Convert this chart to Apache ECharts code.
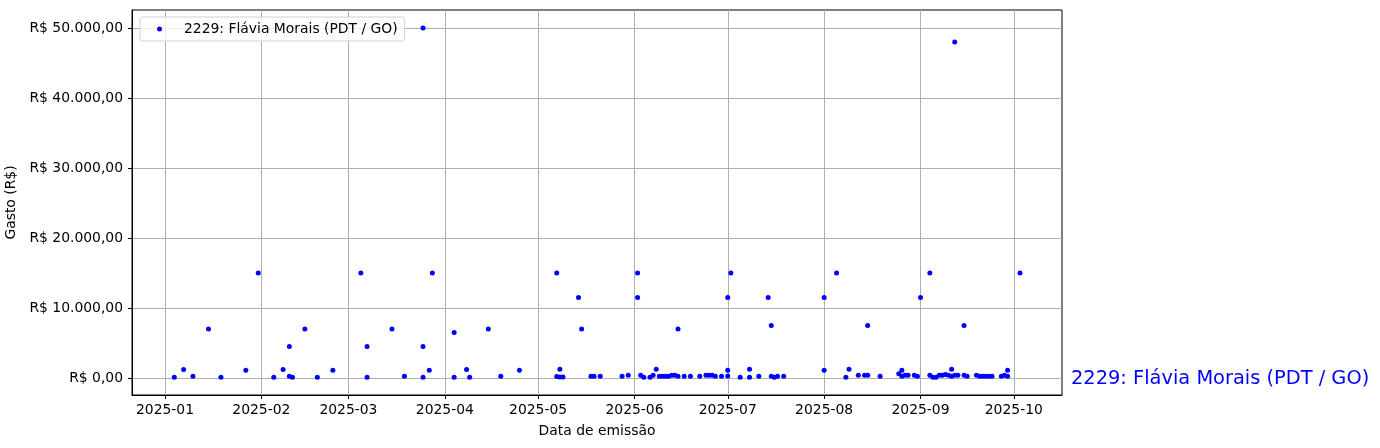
<!DOCTYPE html>
<html>
<head>
<meta charset="utf-8">
<script src="https://cdn.jsdelivr.net/npm/echarts@6/dist/echarts.min.js"></script>
<style>
  html, body { margin: 0; padding: 0; background: #fff; }
  #chart { width: 1380px; height: 448px; }
</style>
</head>
<body>
<div id="chart"></div>
<script>
// dados
const deputado = "2229: Flávia Morais (PDT / GO)";

const datas = [
  "2025-01-04", "2025-01-07", "2025-01-10", "2025-01-15", "2025-01-19", "2025-01-27", "2025-01-31",
  "2025-02-05", "2025-02-08", "2025-02-10", "2025-02-10", "2025-02-11", "2025-02-15", "2025-02-19", "2025-02-24",
  "2025-03-05", "2025-03-07", "2025-03-07", "2025-03-15", "2025-03-19", "2025-03-25", "2025-03-25", "2025-03-25",
  "2025-03-27", "2025-03-28",
  "2025-04-04", "2025-04-04", "2025-04-08", "2025-04-09", "2025-04-15", "2025-04-19", "2025-04-25",
  "2025-05-07", "2025-05-07", "2025-05-08", "2025-05-08", "2025-05-09", "2025-05-14", "2025-05-15", "2025-05-18",
  "2025-05-19", "2025-05-21", "2025-05-28", "2025-05-30",
  "2025-06-02", "2025-06-02", "2025-06-03", "2025-06-04", "2025-06-06", "2025-06-07", "2025-06-08", "2025-06-09",
  "2025-06-10", "2025-06-11", "2025-06-12", "2025-06-13", "2025-06-14", "2025-06-15", "2025-06-15", "2025-06-17",
  "2025-06-19", "2025-06-22", "2025-06-24", "2025-06-25", "2025-06-26", "2025-06-27", "2025-06-29",
  "2025-07-01", "2025-07-01", "2025-07-01", "2025-07-02", "2025-07-05", "2025-07-08", "2025-07-08", "2025-07-11",
  "2025-07-14", "2025-07-15", "2025-07-15", "2025-07-16", "2025-07-17", "2025-07-19",
  "2025-08-01", "2025-08-01", "2025-08-05", "2025-08-08", "2025-08-09", "2025-08-12", "2025-08-14", "2025-08-15",
  "2025-08-15", "2025-08-19", "2025-08-25", "2025-08-26", "2025-08-26", "2025-08-27", "2025-08-28", "2025-08-30",
  "2025-08-31",
  "2025-09-01", "2025-09-04", "2025-09-04", "2025-09-05", "2025-09-06", "2025-09-07", "2025-09-08", "2025-09-09",
  "2025-09-10", "2025-09-11", "2025-09-11", "2025-09-12", "2025-09-12", "2025-09-13", "2025-09-15", "2025-09-15",
  "2025-09-16", "2025-09-19", "2025-09-20", "2025-09-21", "2025-09-22", "2025-09-23", "2025-09-24", "2025-09-27",
  "2025-09-28", "2025-09-29", "2025-09-29",
  "2025-10-03"
];

const gastos = [
  100, 1200, 250, 7000, 100, 1100, 15000,
  100, 1200, 4500, 250, 100, 7000, 100, 1100,
  15000, 4500, 100, 7000, 250, 4500, 100, 50000,
  1100, 15000,
  6500, 100, 1200, 100, 7000, 250, 1100,
  15000, 200, 1250, 150, 150, 11500, 7000, 250,
  250, 250, 250, 400,
  15000, 11500, 400, 100, 100, 400, 1250, 250,
  250, 250, 250, 400, 400, 250, 7000, 250,
  250, 250, 400, 400, 400, 250, 250,
  11500, 1100, 300, 15000, 100, 1250, 100, 250,
  11500, 7500, 250, 100, 250, 250,
  11500, 1100, 15000, 100, 1250, 400, 400, 400,
  7500, 250, 600, 1100, 250, 400, 400, 400,
  250,
  11500, 15000, 400, 100, 100, 400, 400, 500,
  400, 1250, 250, 48000, 400, 400, 7500, 400,
  250, 400, 250, 250, 250, 250, 250, 250,
  400, 1100, 250,
  15000
];

const ticksX = ["2025-01-01", "2025-02-01", "2025-03-01", "2025-04-01", "2025-05-01",
  "2025-06-01", "2025-07-01", "2025-08-01", "2025-09-01", "2025-10-01"];
const ticksY = [0, 10000, 20000, 30000, 40000, 50000];

const toTs = (s) => new Date(s + "T00:00:00").getTime();
const fmtReal = (v) => {
  const partes = v.toFixed(2).split(".");
  return "R$ " + partes[0].replace(/\B(?=(\d{3})+(?!\d))/g, ".") + "," + partes[1];
};
const fmtMes = (v) => {
  const d = new Date(v);
  return d.getFullYear() + "-" + String(d.getMonth() + 1).padStart(2, "0");
};

const pontos = datas.map((d, i) => [toTs(d), gastos[i]]);

const myChart = echarts.init(document.getElementById("chart"));
const fonte = "DejaVu Sans";

const option = {
  animation: false,
  textStyle: { fontFamily: fonte },
  grid: {
    left: 132,
    right: 318,
    top: 10,
    bottom: 53,
    outerBoundsMode: "none",
    containLabel: false,
    show: true,
    borderColor: "#000",
    borderWidth: 1,
  },
  legend: {
    data: [deputado],
    left: 140,
    top: 17,
    padding: [5, 7, 5, 17],
    backgroundColor: "rgba(255,255,255,0.8)",
    borderColor: "#d0d0d0",
    borderWidth: 1,
    borderRadius: 3,
    icon: "circle",
    itemWidth: 5,
    itemHeight: 5,
    textStyle: { fontSize: 13.9, color: "#000", padding: [0, 0, 0, 17] },
  },
  xAxis: {
    type: "value",
    min: toTs("2024-12-21") + 9.5 * 3600000,
    max: toTs("2025-10-16") + 12 * 3600000,
    name: "Data de emissão",
    nameLocation: "middle",
    nameGap: 29,
    nameTextStyle: { fontSize: 13.9, color: "#000" },
    axisLine: { onZero: false, lineStyle: { color: "#000" } },
    axisTick: { length: 4, lineStyle: { color: "#000" }, customValues: ticksX.map(toTs) },
    axisLabel: {
      fontSize: 13.9,
      color: "#000",
      margin: 8,
      customValues: ticksX.map(toTs),
      formatter: (v) => fmtMes(v),
    },
    splitLine: { show: true, lineStyle: { color: "#b0b0b0", width: 1 } },
  },
  yAxis: {
    type: "value",
    min: -2430,
    max: 52570,
    name: "Gasto (R$)",
    nameLocation: "middle",
    nameGap: 101,
    nameTextStyle: { fontSize: 13.9, color: "#000" },
    axisLine: { show: true, onZero: false, lineStyle: { color: "#000" } },
    axisTick: { show: true, length: 4, lineStyle: { color: "#000" }, customValues: ticksY },
    axisLabel: {
      fontSize: 13.9,
      color: "#000",
      margin: 9,
      customValues: ticksY,
      formatter: (v) => fmtReal(v),
    },
    splitLine: { show: true, lineStyle: { color: "#b0b0b0", width: 1 } },
  },
  graphic: [
    {
      type: "text",
      left: 1071,
      top: 369,
      style: { text: deputado, fill: "#0000ff", fontSize: 19.4, fontFamily: fonte },
    },
  ],
  series: [
    {
      name: deputado,
      type: "scatter",
      symbol: "circle",
      symbolSize: 5,
      itemStyle: { color: "#0000ff", opacity: 1 },
      data: pontos,
    },
  ],
};

myChart.setOption(option);
window.onresize = function () {
  myChart.resize();
};
</script>
</body>
</html>
